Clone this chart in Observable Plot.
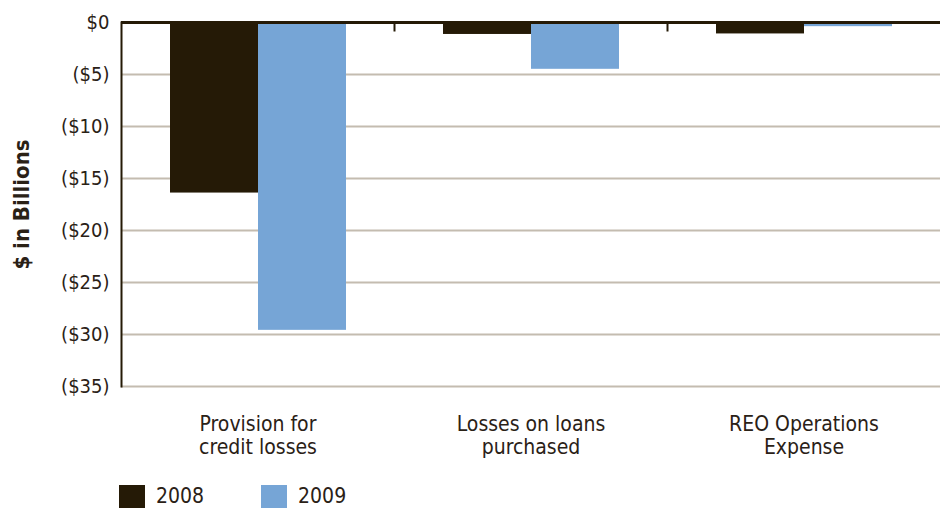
<!DOCTYPE html>
<html>
<head>
<meta charset="utf-8">
<script src="https://cdn.jsdelivr.net/npm/d3@7"></script>
<script src="https://cdn.jsdelivr.net/npm/@observablehq/plot@0.6"></script>
<style>
  body { margin: 0; background: #fff; }
  #chart { width: 941px; font-family: "DejaVu Sans Condensed", "Liberation Sans Narrow", sans-serif; color: #2a2116; }
  #chart svg [aria-label="y-axis label"] text { font-weight: bold; font-size: 22px; }
  .legend { display: flex; align-items: center; height: 45px; padding-top: 17px; box-sizing: border-box; padding-left: 119px; font-size: 21px; color: #2a2116; }
  .legend .sw { width: 26px; height: 23px; margin-right: 11px; }
  .legend .item { display: flex; align-items: center; margin-right: 57px; }
</style>
</head>
<body>
<div id="chart"></div>
<script>
const categories = ["Provision for credit losses", "Losses on loans purchased", "REO Operations Expense"];
const categoryLabels = ["Provision for\ncredit losses", "Losses on loans\npurchased", "REO Operations\nExpense"];
const years = ["2008", "2009"];
const values2008 = [-16.4, -1.15, -1.1];
const values2009 = [-29.6, -4.5, -0.4];
const yTicks = [0, -5, -10, -15, -20, -25, -30, -35];
const yTickLabels = ["$0", "($5)", "($10)", "($15)", "($20)", "($25)", "($30)", "($35)"];
const colors = ["#251a06", "#76a5d6"];

const data = [];
categories.forEach((c, i) => {
  data.push({category: c, year: years[0], value: values2008[i]});
  data.push({category: c, year: years[1], value: values2009[i]});
});

const ink = "#2a2116";
const dark = "#251a06";
const chart = Plot.plot({
  width: 941,
  height: 465,
  marginLeft: 121,
  marginRight: 1,
  marginTop: 22,
  marginBottom: 79,
  style: {fontFamily: '"DejaVu Sans Condensed", "Liberation Sans Narrow", sans-serif', color: ink, background: "#fff"},
  fx: {domain: categories, padding: 0},
  x: {domain: years, paddingInner: 0, paddingOuter: 0.55, axis: null},
  y: {domain: [-35, 0]},
  color: {domain: years, range: colors},
  marks: [
    Plot.gridY(yTicks, {stroke: "#c4bcb0", strokeOpacity: 1, strokeWidth: 2}),
    Plot.barY(data, {fx: "category", x: "year", y: "value", fill: "year"}),
    Plot.ruleY([0], {stroke: dark, strokeWidth: 3}),
    Plot.frame({anchor: "left", fx: () => categories[0], stroke: dark, strokeWidth: 2}),
    Plot.frame({anchor: "right", fx: () => categories[0], stroke: dark, strokeWidth: 2, insetBottom: 356}),
    Plot.frame({anchor: "right", fx: () => categories[1], stroke: dark, strokeWidth: 2, insetBottom: 356}),
    Plot.axisY({
      ticks: yTicks,
      tickFormat: (d) => yTickLabels[yTicks.indexOf(d)],
      tickSize: 0,
      tickPadding: 12,
      fontSize: 20,
      label: "$ in Billions",
      labelAnchor: "center",
      labelArrow: "none",
      labelOffset: 108
    }),
    Plot.axisFx({
      anchor: "bottom",
      tickSize: 0,
      tickPadding: 28,
      fontSize: 21,
      lineHeight: 1.1,
      label: null,
      tickFormat: (d) => categoryLabels[categories.indexOf(d)]
    })
  ]
});
document.getElementById("chart").appendChild(chart);

const legend = document.createElement("div");
legend.className = "legend";
years.forEach((y, i) => {
  const item = document.createElement("div");
  item.className = "item";
  const sw = document.createElement("div");
  sw.className = "sw";
  sw.style.background = colors[i];
  const t = document.createElement("span");
  t.textContent = y;
  item.appendChild(sw);
  item.appendChild(t);
  legend.appendChild(item);
});
document.getElementById("chart").appendChild(legend);
</script>
</body>
</html>
